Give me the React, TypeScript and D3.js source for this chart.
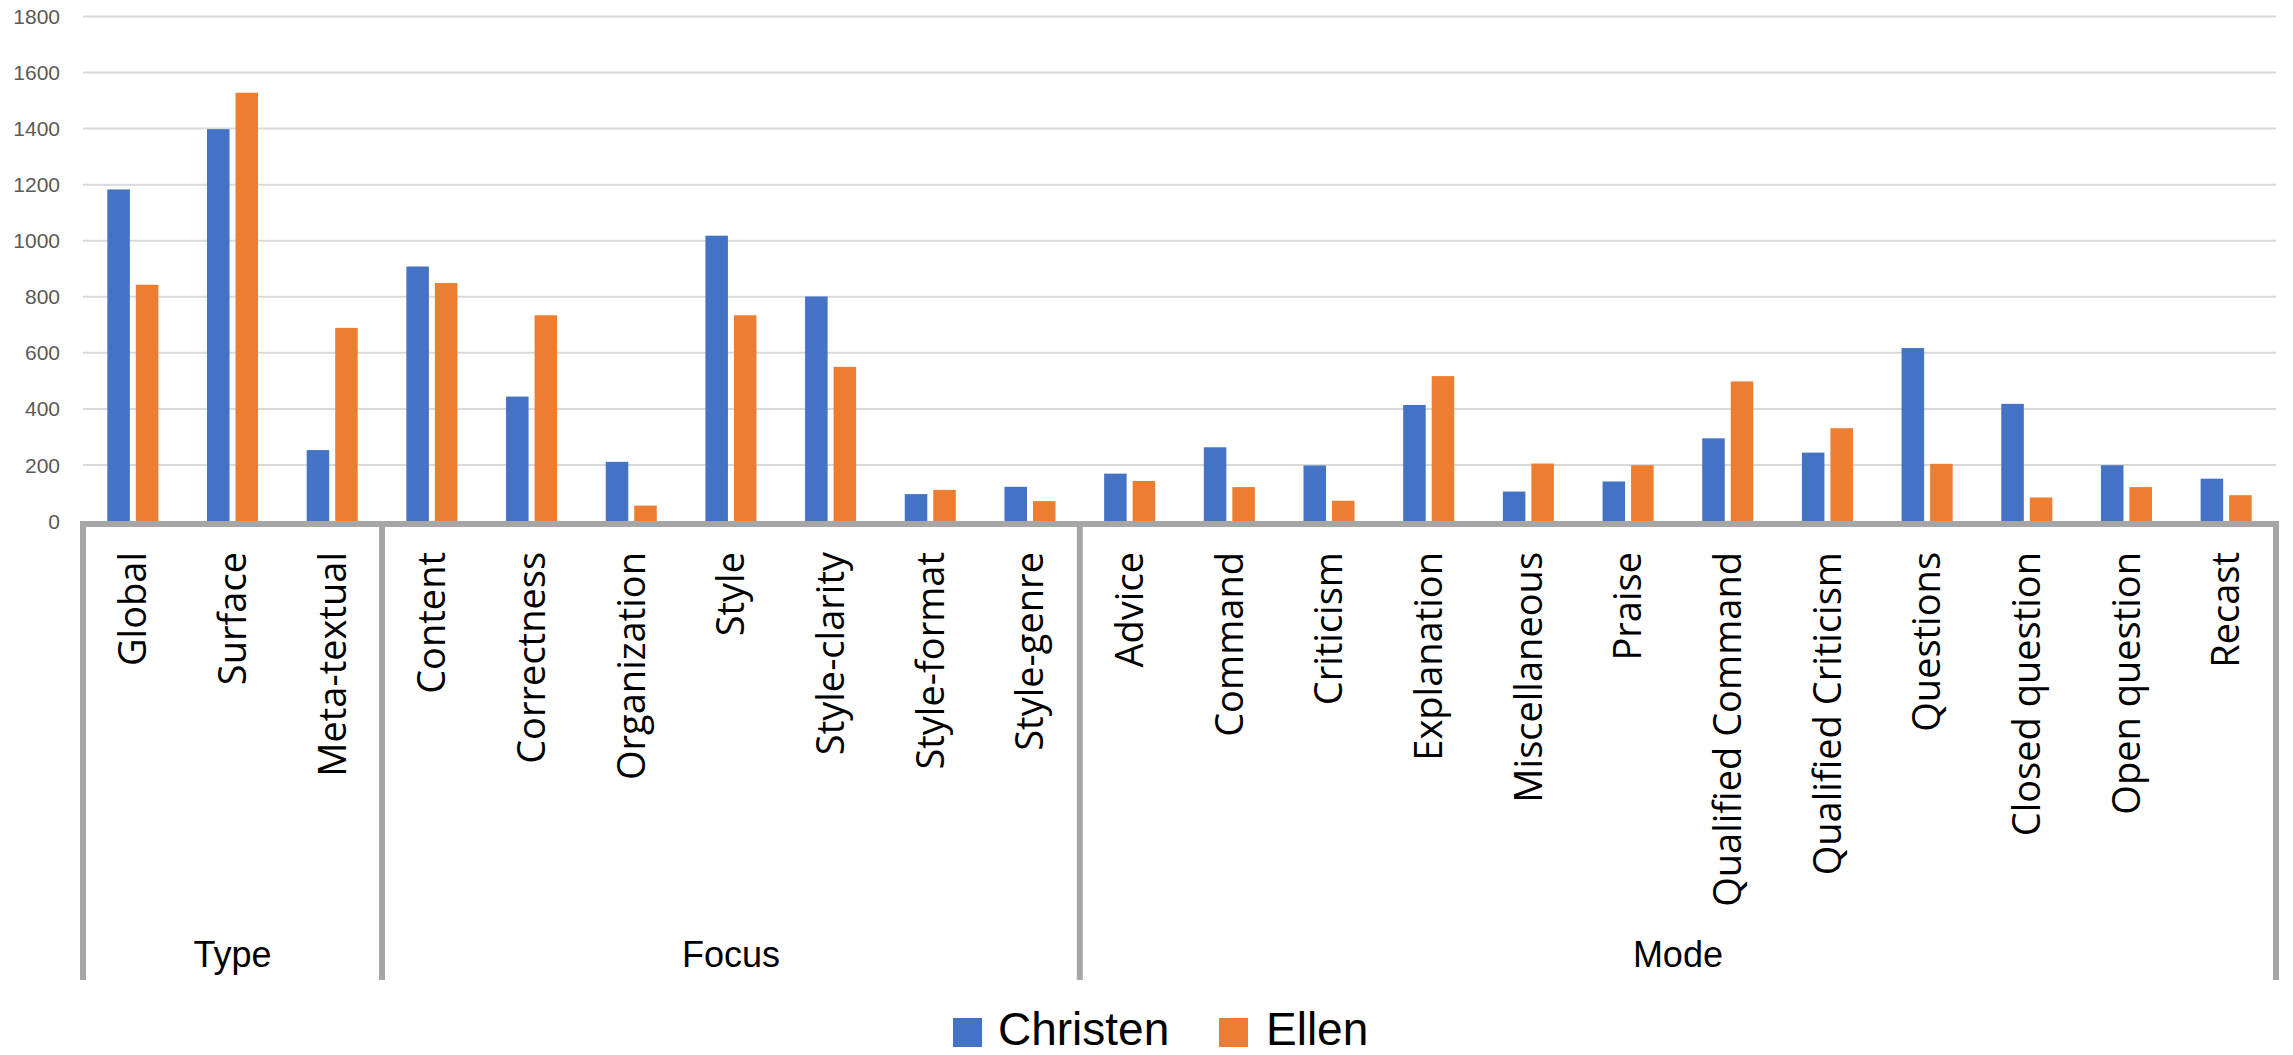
import React, { useEffect } from "react";
import * as d3 from "d3";

// category groups on the two-level x axis
const groups = ["Type", "Focus", "Mode"];
const typeCats = ["Global", "Surface", "Meta-textual"];
const focusCats = ["Content", "Correctness", "Organization", "Style", "Style-clarity", "Style-format", "Style-genre"];
const modeCats = [
  "Advice", "Command", "Criticism", "Explanation", "Miscellaneous", "Praise",
  "Qualified Command", "Qualified Criticism", "Questions", "Closed question", "Open question", "Recast",
];

const seriesNames = ["Christen", "Ellen"];
const christen = [1183, 1398, 253, 908, 444, 211, 1018, 801, 96, 122, 169, 263, 198, 414, 105, 141, 295, 244, 617, 418, 199, 151];
const ellen = [843, 1528, 689, 849, 734, 55, 734, 550, 111, 71, 143, 121, 72, 517, 205, 199, 498, 331, 204, 84, 121, 92];
const yTicks = [0, 200, 400, 600, 800, 1000, 1200, 1400, 1600, 1800];

const colors = ["#4472C4", "#ED7D31"];
const W = 2293;
const H = 1055;

export default function App() {
  useEffect(() => {
    document.body.style.margin = "0";
  }, []);

  const groupCats = [typeCats, focusCats, modeCats];
  const categories = groupCats.flat();

  const left = 83;
  const right = 2276;
  const y0 = 521;
  const yTop = 16.5;
  const labelBottom = 980;

  const x = d3.scaleBand<string>().domain(categories).range([left, right]).padding(0);
  const bw = x.bandwidth();
  const cluster = bw * 0.512;
  const xs = d3
    .scaleBand<string>()
    .domain(seriesNames)
    .range([(bw - cluster) / 2, (bw + cluster) / 2])
    .paddingInner(0.21);

  const y = d3.scaleLinear().domain([0, 1800]).range([y0, yTop]);

  const values = [christen, ellen];

  // group boundaries
  let idx = 0;
  const bounds = groupCats.map((cats, i) => {
    const start = left + idx * bw;
    idx += cats.length;
    const end = left + idx * bw;
    return { name: groups[i], start, end };
  });
  const sepXs = [left, ...bounds.map((b) => b.end)];

  const calibri = "'Liberation Sans', Arial, sans-serif";
  const segoe = "'Open Sans', 'Noto Sans', sans-serif";

  const legendY = 1018;
  const legendItems = [
    { name: seriesNames[0], x: 953, tx: 998 },
    { name: seriesNames[1], x: 1219, tx: 1266 },
  ];

  return (
    <svg width={W} height={H} style={{ display: "block", background: "#fff" }}>
      {/* gridlines */}
      {yTicks.filter((t) => t > 0).map((t) => (
        <line key={t} x1={left} x2={right} y1={y(t)} y2={y(t)} stroke="#d9d9d9" strokeWidth={2} />
      ))}
      {/* y tick labels */}
      {yTicks.map((t) => (
        <text
          key={"l" + t}
          x={60}
          y={y(t)}
          dy="0.36em"
          textAnchor="end"
          fontFamily={calibri}
          fontSize={21}
          fill="#595959"
        >
          {t}
        </text>
      ))}
      {/* bars */}
      {categories.map((c, i) => (
        <g key={c} transform={`translate(${x(c)},0)`}>
          {seriesNames.map((s, j) => (
            <rect
              key={s}
              x={xs(s)}
              y={y(values[j][i])}
              width={xs.bandwidth()}
              height={y0 - y(values[j][i])}
              fill={colors[j]}
            />
          ))}
        </g>
      ))}
      {/* axis line and group separators */}
      <line x1={left - 3} x2={right + 3} y1={y0 + 3} y2={y0 + 3} stroke="#a6a6a6" strokeWidth={6} />
      {sepXs.map((sx, i) => (
        <line key={"s" + i} x1={sx} x2={sx} y1={y0} y2={labelBottom} stroke="#a6a6a6" strokeWidth={6} />
      ))}
      {/* category labels */}
      {categories.map((c) => {
        const cx = (x(c) as number) + bw / 2;
        return (
          <text
            key={"c" + c}
            transform={`translate(${cx},552) rotate(-90)`}
            dy="0.35em"
            textAnchor="end"
            fontFamily={segoe}
            fontSize={38}
            fill="#000"
          >
            {c}
          </text>
        );
      })}
      {/* group labels */}
      {bounds.map((b) => (
        <text
          key={"g" + b.name}
          x={(b.start + b.end) / 2}
          y={967}
          textAnchor="middle"
          fontFamily={calibri}
          fontSize={36}
          fill="#000"
        >
          {b.name}
        </text>
      ))}
      {/* legend */}
      {legendItems.map((l, i) => (
        <g key={l.name}>
          <rect x={l.x} y={legendY} width={29} height={29} fill={colors[i]} />
          <text x={l.tx} y={1045} fontFamily={calibri} fontSize={46} fill="#000">
            {l.name}
          </text>
        </g>
      ))}
    </svg>
  );
}
